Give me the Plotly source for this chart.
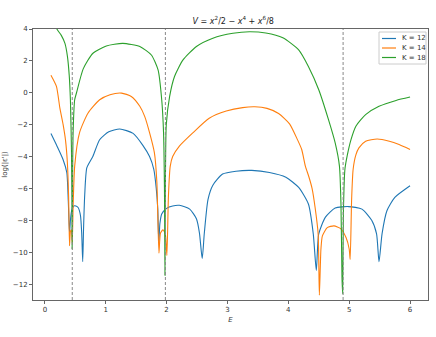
import plotly.graph_objects as go

# energies / log values
E_k12 = [0.10, 0.20, 0.30, 0.36, 0.385, 0.405, 0.42, 0.44, 0.475, 0.51, 0.546, 0.585, 0.605, 0.622,
         0.635, 0.655, 0.69, 0.79, 0.90, 1.05, 1.23, 1.45, 1.61, 1.72, 1.79, 1.83, 1.855, 1.872,
         1.89, 1.92, 2.0, 2.1, 2.21, 2.38, 2.49, 2.54, 2.585, 2.62, 2.68, 2.76, 2.92, 3.14, 3.40,
         3.69, 3.96, 4.17, 4.33, 4.41, 4.46, 4.50, 4.61, 4.77, 4.99, 5.21, 5.37, 5.45, 5.49, 5.54,
         5.62, 5.75, 6.0]
v_k12 = [-2.56, -3.35, -4.2, -5.0, -6.8, -8.8, -8.0, -7.4, -7.1, -7.1, -7.2, -7.7, -8.8, -10.6,
         -8.6, -6.4, -4.7, -3.98, -2.95, -2.45, -2.27, -2.55, -3.3, -4.0, -4.8, -6.0, -7.3, -9.4,
         -8.2, -7.6, -7.25, -7.1, -7.06, -7.3, -7.9, -8.8, -10.4, -8.8, -6.7, -5.8, -5.1, -4.92, -4.87,
         -5.0, -5.3, -5.94, -6.98, -8.85, -11.15, -8.85, -7.8, -7.23, -7.14, -7.3, -8.0, -8.85, -10.6, -8.85,
         -7.4, -6.56, -5.83]

E_k14 = [0.10, 0.19, 0.246, 0.30, 0.34, 0.37, 0.39, 0.405, 0.42, 0.435, 0.45, 0.465, 0.49, 0.57,
         0.71, 0.90, 1.07, 1.26, 1.42, 1.56, 1.64, 1.72, 1.80, 1.84, 1.874, 1.90, 1.94, 1.98, 2.005,
         2.03, 2.06, 2.10, 2.21, 2.43, 2.70, 2.98, 3.25, 3.45, 3.65, 3.84, 4.02, 4.15, 4.22, 4.28,
         4.34, 4.39, 4.44, 4.49, 4.51, 4.536, 4.56, 4.64, 4.75, 4.86, 4.95, 5.0, 5.016, 5.04, 5.065,
         5.11, 5.16, 5.27, 5.46, 5.66, 5.82, 6.0]
v_k14 = [1.1, 0.4, -0.95, -2.0, -3.0, -4.4, -6.5, -9.6, -8.7, -8.6, -9.4, -7.0, -4.6, -2.5,
         -1.27, -0.44, -0.12, -0.02, -0.23, -0.85, -1.48, -2.5, -3.77, -5.6, -10.06, -8.8, -8.6, -8.9, -10.2,
         -6.5, -4.6, -4.0, -3.35, -2.52, -1.6, -1.15, -0.93, -0.88, -0.98, -1.3, -1.95, -2.94, -3.56, -4.6,
         -5.3, -6.0, -7.2, -8.85, -12.7, -9.8, -8.98, -8.46, -8.35, -8.52, -9.1, -9.8, -10.45, -6.7, -4.8,
         -3.9, -3.46, -3.04, -2.9, -3.04, -3.25, -3.56]

E_k18 = [0.10, 0.20, 0.27, 0.33, 0.37, 0.40, 0.42, 0.437, 0.444, 0.448, 0.455, 0.464, 0.49, 0.52,
         0.63, 0.79, 1.01, 1.28, 1.56, 1.75, 1.86, 1.92, 1.95, 1.965, 1.973, 1.98, 1.995, 2.05, 2.13,
         2.27, 2.49, 2.76, 3.09, 3.36, 3.63, 3.91, 4.17, 4.33, 4.50, 4.66, 4.77, 4.84, 4.865, 4.882,
         4.893, 4.905, 4.93, 4.97, 5.03, 5.11, 5.27, 5.49, 5.77, 6.0]
v_k18 = [4.8, 3.98, 3.6, 3.1, 2.3, 1.1, -0.5, -3.6, -6.5, -9.8, -5.5, -2.5, -0.44, 0.0,
         1.5, 2.48, 2.94, 3.1, 2.9, 2.37, 1.44, -0.44, -2.5, -6.0, -11.46, -6.0, -2.0, -0.23, 1.02,
         2.06, 2.9, 3.42, 3.73, 3.83, 3.75, 3.45, 2.69, 1.65, 0.19, -1.69, -3.15, -4.6, -7.0, -11.6,
         -12.6, -7.5, -4.8, -3.9, -2.94, -2.1, -1.37, -0.85, -0.48, -0.27]

labels = ["K = 12", "K = 14", "K = 18"]
colors = ["#1f77b4", "#ff7f0e", "#2ca02c"]
xs_all = [E_k12, E_k14, E_k18]
ys_all = [v_k12, v_k14, v_k18]

eigen_E = [0.45, 1.98, 4.9]

FONT = "DejaVu Sans"
W, H = 436, 337
ML, MR, MT, MB = 33, 8, 29, 37
PW, PH = W - ML - MR, H - MT - MB


def px_x(p):
    return (p - ML) / PW


def px_y(p):
    return (MT + PH - p) / PH


fig = go.Figure()
for name, xs, ys, col in zip(labels, xs_all, ys_all, colors):
    fig.add_trace(go.Scatter(x=xs, y=ys, mode="lines", name=name, showlegend=False,
                             line=dict(color=col, width=1.1, shape="spline", smoothing=0.6)))

for e in eigen_E:
    fig.add_vline(x=e, line=dict(color="#888", width=1, dash="3px,2px"))

# legend box drawn by hand (plotly's legend rows are too tall at this size)
fig.add_shape(type="rect", xref="paper", yref="paper",
              x0=px_x(379), x1=px_x(426), y0=px_y(64), y1=px_y(32),
              line=dict(color="#ccc", width=1), fillcolor="white", layer="above")
for i, (name, col) in enumerate(zip(labels, colors)):
    yy = px_y(38.5 + i * 9.5)
    fig.add_shape(type="line", xref="paper", yref="paper",
                  x0=px_x(382), x1=px_x(396), y0=yy, y1=yy,
                  line=dict(color=col, width=1.2), layer="above")
    fig.add_annotation(x=px_x(400), y=yy, xref="paper", yref="paper", text=name,
                       showarrow=False, xanchor="left", yanchor="middle",
                       font=dict(size=7, family=FONT, color="#333"))

axis_common = dict(showline=True, linecolor="#666", linewidth=1, mirror=True,
                   ticks="outside", ticklen=3, tickcolor="#666", showgrid=False,
                   zeroline=False, automargin=False,
                   tickfont=dict(size=7, color="#333", family=FONT))

fig.update_layout(
    width=W, height=H,
    margin=dict(l=ML, r=MR, t=MT, b=MB, autoexpand=False),
    paper_bgcolor="white", plot_bgcolor="white",
    font=dict(family=FONT, size=7, color="#333"),
    title=dict(text="<i>V</i> = <i>x</i><sup>2</sup>/2 − <i>x</i><sup>4</sup> + <i>x</i><sup>6</sup>/8",
               x=0.535, xanchor="center", y=0.93, yanchor="bottom",
               font=dict(size=8, family=FONT, color="#222")),
    xaxis=dict(range=[-0.195, 6.295], tickvals=[0, 1, 2, 3, 4, 5, 6],
               title=dict(text="<i>E</i>", font=dict(size=7), standoff=3), **axis_common),
    yaxis=dict(range=[-13, 4], tickvals=list(range(-12, 5, 2)),
               title=dict(text="log(|ε'|)", font=dict(size=7), standoff=4), **axis_common),
    showlegend=False,
)

fig.write_html("out.html", config={"displayModeBar": False},
               post_script="document.body.style.margin='0';")
